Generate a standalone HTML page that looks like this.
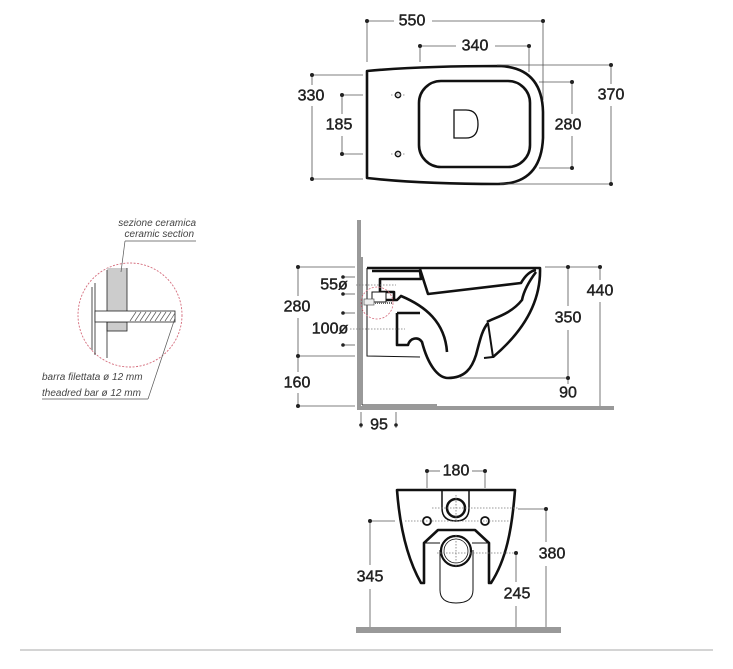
<!DOCTYPE html>
<html><head><meta charset="utf-8"><style>
html,body{margin:0;padding:0;background:#fff}
svg{display:block}
.t{font-family:"Liberation Sans",sans-serif;font-size:16px;fill:#222;stroke:#222;stroke-width:0.45;text-anchor:middle;dominant-baseline:central}
.i{font-family:"Liberation Sans",sans-serif;font-size:10px;font-style:italic;fill:#444}
.d{stroke:#555;stroke-width:0.8;fill:none}
.k{stroke:#111;stroke-width:2.6;fill:none;stroke-linejoin:round}
.dot{fill:#222}
.dt{stroke:#777;stroke-width:0.8;stroke-dasharray:1.5 1.5;fill:none}
</style></head><body>
<svg width="733" height="669" viewBox="0 0 733 669" xmlns="http://www.w3.org/2000/svg">
<!-- TOP VIEW -->
<g>
<line class="d" x1="367" y1="21" x2="394" y2="21"/><line class="d" x1="432" y1="21" x2="543" y2="21"/>
<line class="d" x1="367" y1="21" x2="367" y2="62"/><line class="d" x1="543" y1="21" x2="543" y2="100"/>
<circle class="dot" cx="367" cy="21" r="2"/><circle class="dot" cx="543" cy="21" r="2"/>
<text class="t" x="412" y="21">550</text>
<line class="d" x1="420" y1="46" x2="456" y2="46"/><line class="d" x1="495" y1="46" x2="529" y2="46"/>
<line class="d" x1="420" y1="46" x2="420" y2="62"/><line class="d" x1="529" y1="46" x2="529" y2="72"/>
<circle class="dot" cx="420" cy="46" r="2"/><circle class="dot" cx="529" cy="46" r="2"/>
<text class="t" x="475" y="46">340</text>
<path class="k" d="M367,71 Q420,66 500,66 Q542,68 543,112 L543,138 Q541,184 498,184 Q420,184 367,178 Z"/>
<rect class="k" x="419" y="81" width="111" height="86" rx="22"/>
<path stroke="#111" stroke-width="1.3" fill="none" d="M454,110 L466,110 Q478,110 478,124 Q478,138 466,138 L454,138 Z"/>
<circle cx="398" cy="95" r="2.6" fill="none" stroke="#111" stroke-width="1.5"/>
<circle cx="398" cy="154" r="2.6" fill="none" stroke="#111" stroke-width="1.5"/>
<line class="dt" x1="391" y1="95" x2="405" y2="95"/><line class="dt" x1="391" y1="154" x2="405" y2="154"/>
<line class="d" x1="312" y1="75" x2="363" y2="75"/><line class="d" x1="312" y1="179" x2="363" y2="179"/>
<line class="d" x1="312" y1="75" x2="312" y2="85"/><line class="d" x1="312" y1="106" x2="312" y2="179"/>
<circle class="dot" cx="312" cy="75" r="2"/><circle class="dot" cx="312" cy="179" r="2"/>
<text class="t" x="311" y="96">330</text>
<line class="d" x1="342" y1="95" x2="363" y2="95"/><line class="d" x1="342" y1="154" x2="363" y2="154"/>
<line class="d" x1="342" y1="95" x2="342" y2="114"/><line class="d" x1="342" y1="136" x2="342" y2="154"/>
<circle class="dot" cx="342" cy="95" r="2"/><circle class="dot" cx="342" cy="154" r="2"/>
<text class="t" x="339" y="125">185</text>
<line class="d" x1="539" y1="82" x2="572" y2="82"/><line class="d" x1="539" y1="168" x2="572" y2="168"/>
<line class="d" x1="572" y1="82" x2="572" y2="114"/><line class="d" x1="572" y1="136" x2="572" y2="168"/>
<circle class="dot" cx="572" cy="82" r="2"/><circle class="dot" cx="572" cy="168" r="2"/>
<text class="t" x="568" y="125">280</text>
<line class="d" x1="497" y1="65" x2="611" y2="65"/><line class="d" x1="500" y1="184" x2="611" y2="184"/>
<line class="d" x1="611" y1="65" x2="611" y2="84"/><line class="d" x1="611" y1="106" x2="611" y2="184"/>
<circle class="dot" cx="611" cy="65" r="2"/><circle class="dot" cx="611" cy="184" r="2"/>
<text class="t" x="611" y="95">370</text>
</g>

<!-- SIDE VIEW -->
<g>
<rect x="357" y="220" width="4" height="190" fill="#999"/>
<rect x="357" y="406" width="257" height="4" fill="#999"/>
<line x1="362" y1="257" x2="362" y2="405" stroke="#333" stroke-width="1"/>
<line x1="362" y1="405" x2="437" y2="405" stroke="#333" stroke-width="1"/>
<path stroke="#111" stroke-width="1" fill="none" d="M367,268 L367,356 L420,357"/>
<path class="k" d="M367,268 L540,268 C541,300 525,330 493,357"/>
<path class="k" d="M372,271 L420,271 L421,279 L380,279 L380,292 L394,292 L394,300"/>
<path class="k" d="M420,269 L428,294 L521,283 C525,276 530,271 536,270"/>
<path class="k" d="M536,272 C530,280 524,290 522,300 C510,315 493,318 487,322"/>
<path class="k" d="M372,300 L397,300 L401,296 C425,306 445,322 447,352"/>
<path class="k" d="M397,313 L420,313"/>
<path class="k" d="M397,313 L397,345 L408,345 C410,338 418,336 422,342 C428,365 438,378 448,378 C465,378 472,368 476,355 C480,340 482,330 488,323"/>
<path stroke="#111" stroke-width="2" fill="none" d="M488,323 L493,357 L484,358"/>
<rect x="372" y="292" width="14" height="10" fill="#fff" stroke="#111" stroke-width="1"/>
<rect x="364" y="299" width="10" height="6" fill="#eee" stroke="#555" stroke-width="0.7"/>
<line x1="375" y1="303" x2="393" y2="303" stroke="#666" stroke-width="2" stroke-dasharray="1 1"/>
<circle cx="377" cy="303" r="16" fill="none" stroke="#d46a7a" stroke-width="0.8" stroke-dasharray="2 1.5"/>
<line class="d" x1="298" y1="267" x2="355" y2="267"/><line class="d" x1="298" y1="356" x2="355" y2="356"/><line class="d" x1="298" y1="406" x2="355" y2="406"/>
<line class="d" x1="298" y1="267" x2="298" y2="296"/><line class="d" x1="298" y1="318" x2="298" y2="372"/><line class="d" x1="298" y1="393" x2="298" y2="406"/>
<circle class="dot" cx="298" cy="267" r="2"/><circle class="dot" cx="298" cy="356" r="2"/><circle class="dot" cx="298" cy="406" r="2"/>
<text class="t" x="297" y="307">280</text><text class="t" x="297" y="383">160</text>
<line class="d" x1="343" y1="277" x2="355" y2="277"/><line class="d" x1="343" y1="294" x2="355" y2="294"/>
<circle class="dot" cx="343" cy="277" r="1.8"/><circle class="dot" cx="343" cy="294" r="1.8"/>
<text class="t" x="334" y="285">55ø</text>
<line class="dt" x1="356" y1="285" x2="396" y2="285"/>
<line class="d" x1="343" y1="313" x2="355" y2="313"/><line class="d" x1="343" y1="345" x2="355" y2="345"/>
<circle class="dot" cx="343" cy="313" r="1.8"/><circle class="dot" cx="343" cy="345" r="1.8"/>
<text class="t" x="330" y="329">100ø</text>
<line class="dt" x1="350" y1="329" x2="405" y2="329"/>
<line class="d" x1="545" y1="267" x2="600" y2="267"/>
<line class="d" x1="568" y1="267" x2="568" y2="306"/><line class="d" x1="568" y1="330" x2="568" y2="378"/>
<line class="d" x1="460" y1="378" x2="568" y2="378"/><line class="d" x1="568" y1="380" x2="568" y2="384"/>
<circle class="dot" cx="568" cy="267" r="2"/><circle class="dot" cx="568" cy="378" r="2"/>
<text class="t" x="568" y="318">350</text><text class="t" x="568" y="393">90</text>
<line class="d" x1="600" y1="267" x2="600" y2="280"/><line class="d" x1="600" y1="302" x2="600" y2="406"/>
<circle class="dot" cx="600" cy="267" r="2"/>
<text class="t" x="600" y="291">440</text>
<line class="d" x1="361" y1="412" x2="361" y2="428"/><line class="d" x1="396" y1="412" x2="396" y2="428"/>
<circle class="dot" cx="361" cy="425" r="1.8"/><circle class="dot" cx="396" cy="425" r="1.8"/>
<text class="t" x="379" y="425">95</text>
</g>

<!-- DETAIL -->
<g>
<circle cx="130" cy="315" r="52" fill="none" stroke="#d46a7a" stroke-width="0.9" stroke-dasharray="2 1.5"/>
<rect x="107" y="268" width="20" height="43" fill="#ccc"/>
<rect x="107" y="322" width="20" height="9" fill="#ccc" stroke="#222" stroke-width="0.8"/>
<line x1="92" y1="287" x2="92" y2="350" stroke="#222" stroke-width="0.8"/>
<line x1="95" y1="283" x2="95" y2="355" stroke="#222" stroke-width="0.8"/>
<line x1="107" y1="270" x2="107" y2="358" stroke="#222" stroke-width="0.8"/>
<line x1="127" y1="268" x2="127" y2="311" stroke="#222" stroke-width="0.8"/>
<rect x="95" y="311" width="80" height="11" fill="#fff" stroke="#222" stroke-width="0.8"/>
<g stroke="#555" stroke-width="0.7">
<line x1="130" y1="321" x2="136" y2="312"/><line x1="135" y1="321" x2="141" y2="312"/><line x1="140" y1="321" x2="146" y2="312"/><line x1="145" y1="321" x2="151" y2="312"/><line x1="150" y1="321" x2="156" y2="312"/><line x1="155" y1="321" x2="161" y2="312"/><line x1="160" y1="321" x2="166" y2="312"/><line x1="165" y1="321" x2="171" y2="312"/><line x1="170" y1="321" x2="175" y2="313"/>
</g>
<text class="i" x="196" y="226" text-anchor="end">sezione ceramica</text>
<text class="i" x="194" y="237" text-anchor="end">ceramic section</text>
<line x1="125" y1="241" x2="196" y2="241" stroke="#555" stroke-width="0.7"/>
<line x1="125" y1="241" x2="121" y2="272" stroke="#555" stroke-width="0.7"/>
<text class="i" x="42" y="380">barra filettata ø 12 mm</text>
<text class="i" x="42" y="396">theadred bar ø 12 mm</text>
<line x1="42" y1="399" x2="148" y2="399" stroke="#555" stroke-width="0.7"/>
<line x1="148" y1="399" x2="175" y2="318" stroke="#555" stroke-width="0.7"/>
</g>

<!-- FRONT VIEW -->
<g>
<line class="d" x1="427" y1="471" x2="440" y2="471"/><line class="d" x1="472" y1="471" x2="485" y2="471"/>
<line class="d" x1="427" y1="471" x2="427" y2="488"/><line class="d" x1="485" y1="471" x2="485" y2="488"/>
<circle class="dot" cx="427" cy="471" r="2"/><circle class="dot" cx="485" cy="471" r="2"/>
<text class="t" x="456" y="471">180</text>
<path class="k" d="M397,490 L515,490 C512,530 506,560 491,583 L489,583 L489,543 L475,530 L438,530 L424,543 L424,583 L421,583 C408,560 400,530 397,490 Z"/>
<path stroke="#111" stroke-width="1.5" fill="none" d="M442,490 L442,508 Q442,521 456,521 Q469,521 469,508 L469,490"/>
<circle cx="456" cy="508" r="9" fill="none" stroke="#111" stroke-width="2.5"/>
<circle cx="427" cy="521" r="4" fill="none" stroke="#111" stroke-width="1.8"/>
<circle cx="485" cy="521" r="4" fill="none" stroke="#111" stroke-width="1.8"/>
<path stroke="#111" stroke-width="1" fill="none" d="M424,543 L440,543 M472,543 L489,543 M440,550 L440,590 Q440,603 456,603 Q473,603 473,590 L473,550"/>
<circle cx="456" cy="551" r="15" fill="#fff" stroke="#111" stroke-width="2.2"/>
<circle cx="456" cy="551" r="12" fill="none" stroke="#111" stroke-width="0.8"/>
<line class="dt" x1="405" y1="521" x2="510" y2="521"/><line class="dt" x1="432" y1="508" x2="518" y2="508"/>
<line class="dt" x1="437" y1="553" x2="516" y2="553"/><line class="dt" x1="456" y1="535" x2="456" y2="567"/><line class="dt" x1="456" y1="495" x2="456" y2="521"/>
<line class="d" x1="370" y1="521" x2="395" y2="521"/>
<line class="d" x1="370" y1="521" x2="370" y2="565"/><line class="d" x1="370" y1="589" x2="370" y2="630"/>
<circle class="dot" cx="370" cy="521" r="2"/>
<text class="t" x="370" y="577">345</text>
<line class="d" x1="518" y1="509" x2="546" y2="509"/>
<line class="d" x1="546" y1="509" x2="546" y2="542"/><line class="d" x1="546" y1="566" x2="546" y2="630"/>
<circle class="dot" cx="546" cy="509" r="2"/>
<text class="t" x="552" y="554">380</text>
<line class="d" x1="516" y1="553" x2="516" y2="582"/><line class="d" x1="516" y1="606" x2="516" y2="630"/>
<circle class="dot" cx="516" cy="553" r="2"/>
<text class="t" x="517" y="594">245</text>
<rect x="356" y="627" width="205" height="6" fill="#999"/>
</g>
<line x1="20" y1="650" x2="713" y2="650" stroke="#aaa" stroke-width="1"/>
</svg>
</body></html>
